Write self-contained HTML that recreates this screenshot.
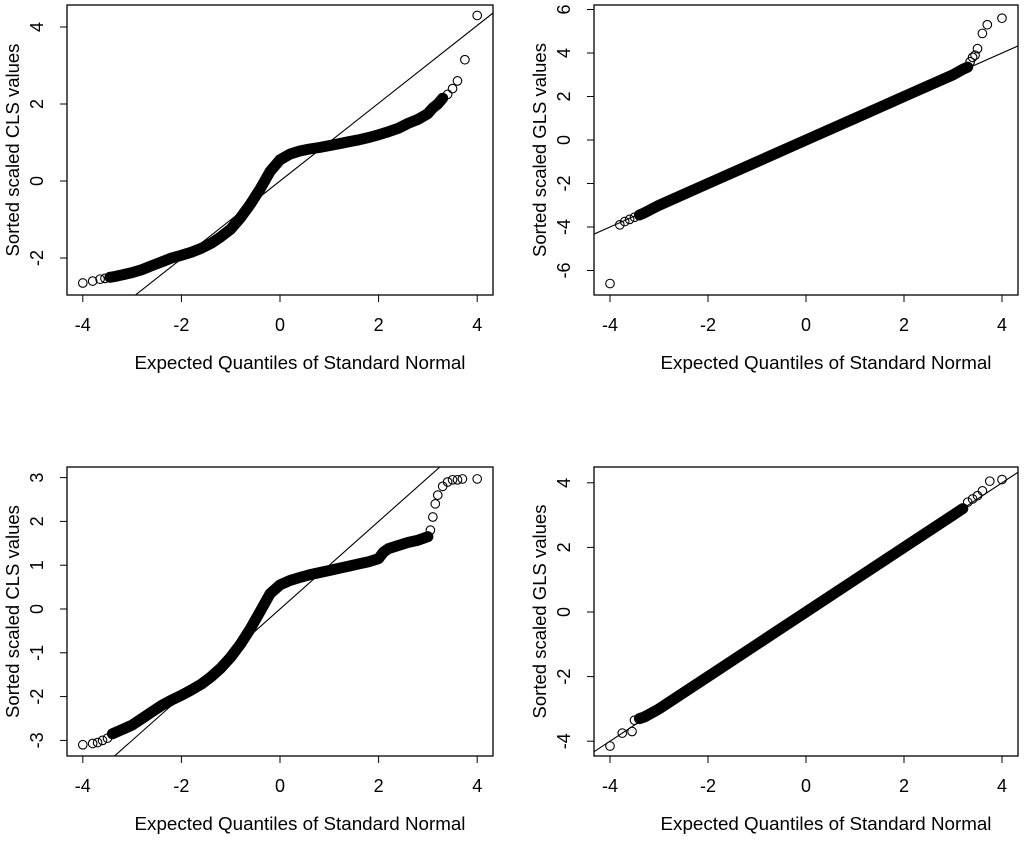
<!DOCTYPE html>
<html><head><meta charset="utf-8"><style>
html,body{margin:0;padding:0;background:#fff;}
svg{display:block;font-family:"Liberation Sans",sans-serif;}
</style></head><body>
<svg id="c" width="1024" height="841" viewBox="0 0 1024 841"></svg>
<script>
const xTicks = [-4,-2,0,2,4];
// Panel 1: CLS top
const p1x = [-4,-3.8,-3.65,-3.55,-3.45,-3.35,-3.2,-3,-2.8,-2.6,-2.4,-2.2,-2,-1.8,-1.6,-1.4,-1.2,-1,-0.8,-0.6,-0.4,-0.2,0,0.2,0.4,0.6,0.8,1,1.2,1.4,1.6,1.8,2,2.2,2.4,2.6,2.8,3,3.1,3.2,3.3,3.4,3.5,3.6,3.75,4];
const p1y = [-2.65,-2.6,-2.55,-2.53,-2.5,-2.48,-2.44,-2.38,-2.3,-2.2,-2.1,-2.0,-1.93,-1.85,-1.75,-1.62,-1.45,-1.25,-0.95,-0.6,-0.2,0.25,0.55,0.7,0.78,0.83,0.87,0.92,0.97,1.02,1.07,1.13,1.2,1.28,1.37,1.5,1.6,1.75,1.9,2.0,2.15,2.25,2.4,2.6,3.15,4.3];
const p1ticks = [-2,0,2,4];
// Panel 2: GLS top
const p2x = [-4,-3.8,-3.7,-3.6,-3.5,-3.4,-3.3,-3,-2,-1,0,1,2,3,3.2,3.3,3.35,3.4,3.45,3.5,3.6,3.7,4];
const p2y = [-6.6,-3.9,-3.75,-3.65,-3.55,-3.45,-3.35,-3.0,-2.0,-1.0,0,1.0,2.0,3.0,3.25,3.35,3.6,3.8,3.9,4.2,4.9,5.3,5.6];
const p2ticks = [-6,-4,-2,0,2,4,6];
// Panel 3: CLS bottom
const p3x = [-4,-3.8,-3.7,-3.6,-3.5,-3.4,-3.2,-3,-2.8,-2.6,-2.4,-2.2,-2,-1.8,-1.6,-1.4,-1.2,-1,-0.8,-0.6,-0.4,-0.2,0,0.2,0.4,0.6,0.8,1,1.2,1.4,1.6,1.8,2,2.1,2.2,2.4,2.6,2.8,3,3.05,3.1,3.15,3.2,3.3,3.4,3.5,3.6,3.7,4];
const p3y = [-3.1,-3.07,-3.05,-3.0,-2.95,-2.85,-2.75,-2.65,-2.5,-2.35,-2.2,-2.08,-1.97,-1.85,-1.72,-1.55,-1.35,-1.1,-0.8,-0.45,-0.05,0.35,0.55,0.65,0.72,0.78,0.83,0.88,0.93,0.98,1.03,1.08,1.15,1.3,1.38,1.45,1.52,1.57,1.65,1.8,2.1,2.4,2.6,2.8,2.9,2.95,2.95,2.97,2.97];
const p3ticks = [-3,-2,-1,0,1,2,3];
// Panel 4: GLS bottom
const p4x = [-4,-3.75,-3.55,-3.5,-3.4,-3.3,-3,-2,-1,0,1,2,3,3.2,3.3,3.4,3.5,3.6,3.75,4];
const p4y = [-4.15,-3.75,-3.7,-3.35,-3.3,-3.25,-3.0,-2.0,-1.0,0,1.0,2.0,3.0,3.2,3.4,3.5,3.6,3.75,4.05,4.1];
const p4ticks = [-4,-2,0,2,4];

const NS="http://www.w3.org/2000/svg";
const svg=document.getElementById('c');
function mk(t,a,parent){const e=document.createElementNS(NS,t);for(const k in a)e.setAttribute(k,a[k]);(parent||svg).appendChild(e);return e;}

function panel(name,box,xs,ys,yTicks,yRef,ylab,bandLo,bandHi){
  const g=mk('g',{});
  
  
  const x0=box.x0, xu=box.xu, yz=box.yz, yu=box.yu;
  const X=v=>x0+v*xu, Y=v=>yz-v*yu;
  const clip=mk('clipPath',{id:'cl'+name},g);
  mk('rect',{x:box.l,y:box.t,width:box.r-box.l,height:box.b-box.t},clip);
  const dg=mk('g',{'clip-path':'url(#cl'+name+')'},g);
  let d='';
  xs.forEach((v,i)=>{if(v>=bandLo&&v<=bandHi)d+=(d?'L':'M')+X(v).toFixed(1)+','+Y(ys[i]).toFixed(1);});
  const band=mk('path',{d:d,fill:'none',stroke:'#000','stroke-width':11,'stroke-linejoin':'round','stroke-linecap':'round'},dg);
  
  
  xs.forEach((v,i)=>{
    const c=mk('circle',{cx:X(v),cy:Y(ys[i]),r:4.3,fill:'none',stroke:'#000','stroke-width':1.1},dg);
    
    
  });
  const ln=mk('line',{x1:X(-6),y1:Y(yRef[0]+yRef[1]*-6),x2:X(6),y2:Y(yRef[0]+yRef[1]*6),stroke:'#000','stroke-width':1.1},dg);
  
  
  const fr=mk('rect',{x:box.l,y:box.t,width:box.r-box.l,height:box.b-box.t,fill:'none',stroke:'#000','stroke-width':1.3},g);
  
  
  mk('line',{x1:X(xTicks[0]),y1:box.b,x2:X(xTicks[xTicks.length-1]),y2:box.b,stroke:'#000'},g);
  xTicks.forEach(v=>{
    mk('line',{x1:X(v),y1:box.b,x2:X(v),y2:box.b+7,stroke:'#000'},g);
    const t=mk('text',{x:X(v),y:box.b+36,'text-anchor':'middle','font-size':18},g);t.textContent=v;
    
    
  });
  const xt=mk('text',{x:(box.l+box.r)/2+20,y:box.b+74,'text-anchor':'middle','font-size':18.8},g);
  xt.textContent='Expected Quantiles of Standard Normal';
  
  
  yTicks.forEach(v=>{
    mk('line',{x1:box.l,y1:Y(v),x2:box.l-7,y2:Y(v),stroke:'#000'},g);
    const t=mk('text',{x:box.l-24,y:Y(v),'text-anchor':'middle','font-size':18,transform:'rotate(-90 '+(box.l-24)+' '+Y(v)+')'},g);t.textContent=v;
    
    
  });
  mk('line',{x1:box.l,y1:Y(yTicks[0]),x2:box.l,y2:Y(yTicks[yTicks.length-1]),stroke:'#000'},g);
  const cy=(box.t+box.b)/2;
  const yt=mk('text',{x:box.l-48,y:cy,'text-anchor':'middle','font-size':18.5,transform:'rotate(-90 '+(box.l-48)+' '+cy+')'},g);
  yt.textContent=ylab;
  
  
}
panel('cls-top',{l:67,r:493,t:5,b:295,x0:280,xu:49.3,yz:181,yu:38.5},p1x,p1y,p1ticks,[0,1.01],'Sorted scaled CLS values',-3.45,3.3);
panel('gls-top',{l:594,r:1018,t:5,b:295,x0:806,xu:49,yz:140,yu:21.75},p2x,p2y,p2ticks,[0,1.0],'Sorted scaled GLS values',-3.4,3.3);
panel('cls-bottom',{l:67,r:493,t:467,b:756,x0:280,xu:49.3,yz:609,yu:43.8},p3x,p3y,p3ticks,[0,1.0],'Sorted scaled CLS values',-3.4,3.0);
panel('gls-bottom',{l:594,r:1018,t:467,b:756,x0:806,xu:49,yz:612,yu:32.3},p4x,p4y,p4ticks,[0,1.0],'Sorted scaled GLS values',-3.4,3.2);
</script>
</body></html>
